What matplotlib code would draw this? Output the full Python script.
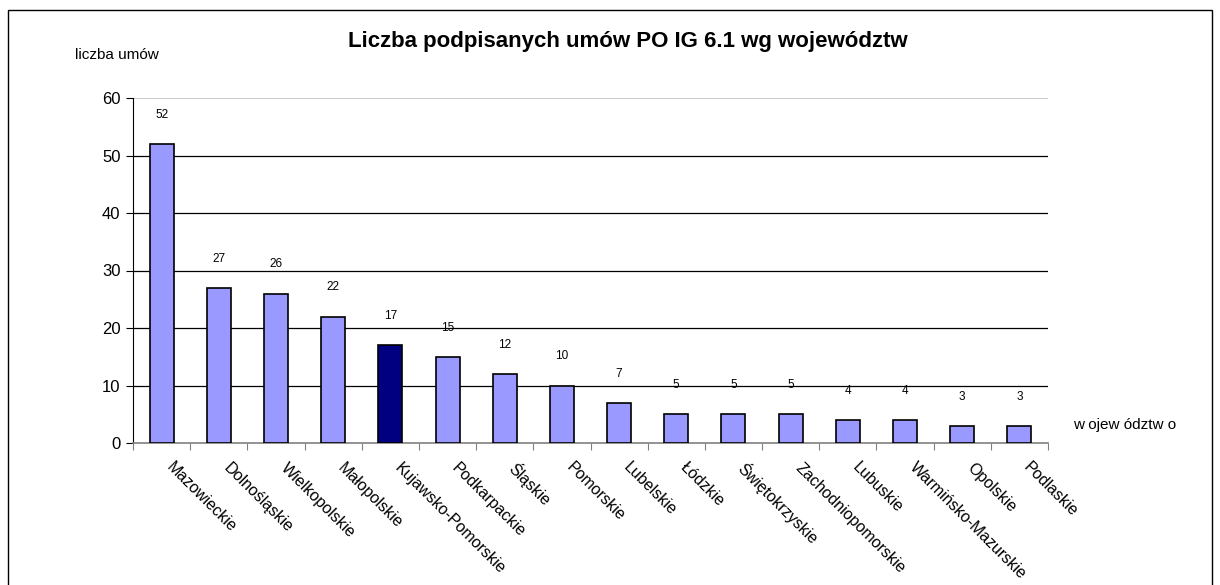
import matplotlib
matplotlib.use("Agg")
import matplotlib.pyplot as plt
from matplotlib.patches import Rectangle

plt.rcParams['font.family'] = ['Liberation Sans', 'DejaVu Sans']

regions = ["Mazowieckie", "Dolnośląskie", "Wielkopolskie", "Małopolskie",
           "Kujawsko-Pomorskie", "Podkarpackie", "Śląskie", "Pomorskie",
           "Lubelskie", "Łódzkie", "Świętokrzyskie", "Zachodniopomorskie",
           "Lubuskie", "Warmińsko-Mazurskie", "Opolskie", "Podlaskie"]
contracts = [52, 27, 26, 22, 17, 15, 12, 10, 7, 5, 5, 5, 4, 4, 3, 3]
highlight = "Kujawsko-Pomorskie"

W, H = 1220, 585
fig = plt.figure(figsize=(W / 100, H / 100), dpi=100)
fig.patch.set_facecolor("white")

# chart frame
fig.patches.append(Rectangle((8 / W, -0.02), (1212 - 8) / W, 1 - 10 / H + 0.02,
                             transform=fig.transFigure, fill=False,
                             edgecolor="black", linewidth=1.0))

ax = fig.add_axes([133 / W, 1 - 443 / H, (1048 - 133) / W, (443 - 98) / H])

x = list(range(len(regions)))
colors = ["#000080" if r == highlight else "#9999FF" for r in regions]
bars = ax.bar(x, contracts, width=0.42, color=colors, edgecolor="black",
              linewidth=1.2, zorder=3)

for xi, v in zip(x, contracts):
    ax.annotate(str(v), (xi, v), xytext=(0, 21), textcoords="offset points",
                ha="center", va="center", fontsize=8.5)

ax.set_xlim(-0.5, len(regions) - 0.5)
ax.set_ylim(0, 60)
ax.set_yticks(range(0, 61, 10))
ax.tick_params(axis="y", labelsize=12, length=5, direction="out", pad=4)

# horizontal grid: black lines, top one grey
for yv in range(10, 60, 10):
    ax.axhline(yv, color="black", linewidth=0.9, zorder=1)
ax.axhline(60, color="#c0c0c0", linewidth=1.2, zorder=1)

# category separators as x ticks
ax.set_xticks([i + 0.5 for i in range(-1, len(regions))], minor=False)
ax.set_xticklabels([])
ax.tick_params(axis="x", length=5, direction="out", color="#808080")

for xi, name in zip(x, regions):
    ax.annotate(name, (xi, 0), xytext=(5, -16), textcoords="offset points",
                rotation=-45, rotation_mode="anchor", ha="left", va="center",
                fontsize=11.5, annotation_clip=False)

for side in ["top", "right"]:
    ax.spines[side].set_visible(False)
ax.spines["left"].set_color("black")
ax.spines["bottom"].set_color("#808080")
ax.spines["bottom"].set_linewidth(1.2)

fig.text(628 / W, 1 - 42 / H, "Liczba podpisanych umów PO IG 6.1 wg województw",
         ha="center", va="center", fontsize=16, fontweight="bold")
fig.text(117 / W, 1 - 55 / H, "liczba umów", ha="center", va="center", fontsize=11)
fig.text(1125 / W, 1 - 425 / H, "w ojew ództw o", ha="center", va="center", fontsize=11)

fig.savefig("out.png", dpi=100)
